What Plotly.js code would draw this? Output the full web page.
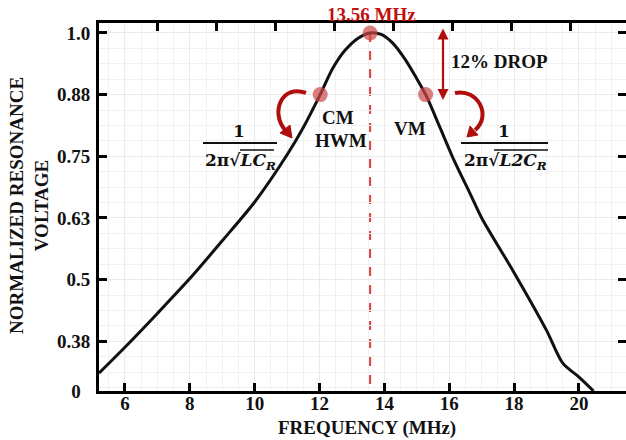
<!DOCTYPE html>
<html><head><meta charset="utf-8">
<script src="https://cdn.plot.ly/plotly-3.0.1.min.js"></script>
<style>body{margin:0;padding:0;background:#fff}#chart{width:626px;height:440px}</style>
</head><body><div id="chart"></div>
<script>
// Data
const freq = [5.2, 6, 7, 8, 9, 10, 11, 11.5, 12.02, 12.4, 12.8, 13.2, 13.56, 13.9, 14.25, 14.65, 15.0, 15.29, 15.7, 16.12, 16.65, 17, 18, 19, 19.5, 20, 20.45];
const volt = [0.316, 0.368, 0.436, 0.506, 0.582, 0.660, 0.755, 0.810, 0.876, 0.928, 0.966, 0.990, 1.0, 0.997, 0.980, 0.946, 0.908, 0.874, 0.812, 0.748, 0.676, 0.628, 0.518, 0.402, 0.336, 0.308, 0.28];
const markFreq = [12.02, 13.56, 15.27];
const markVolt = [0.876, 1.0, 0.876];
const resonance = 13.56;
const yTickVals = [0.28, 0.38, 0.504, 0.628, 0.752, 0.876, 1.0];
const yTickText = ['0\u00a0\u00a0', '0.38', '0.5', '0.63', '0.75', '0.88', '1.0'];
const xTickVals = [6, 8, 10, 12, 14, 16, 18, 20];

const L = 99, R = 626, T = 23, B = 391;
const px = x => (x - L) / (R - L);
const py = y => (B - y) / (B - T);
const P = (x, y) => px(x).toFixed(4) + ',' + py(y).toFixed(4);

const serif = 'Liberation Serif, Times New Roman, serif';
const mathFont = 'DejaVu Serif, serif';
const dark = '#b00d0d';

const traces = [
  {x: freq, y: volt, type: 'scatter', mode: 'lines', line: {color: '#111', width: 3, shape: 'spline', smoothing: 0.8}, hoverinfo: 'skip'},
  {x: markFreq, y: markVolt, type: 'scatter', mode: 'markers', marker: {color: 'rgba(205,70,70,0.7)', size: 15}, hoverinfo: 'skip'},
  {x: [6], y: [0.5], xaxis: 'x2', type: 'scatter', mode: 'markers', marker: {opacity: 0}, hoverinfo: 'skip', showlegend: false}
];

const font = {family: serif, size: 19, color: '#111', weight: 'bold'};
const mfont = {family: mathFont, size: 17, color: '#111', weight: 'bold'};

const annotations = [
  {xref: 'paper', yref: 'paper', x: px(371), y: py(14), text: '13.56 MHz', showarrow: false, font: {family: serif, size: 19, color: '#c01010', weight: 'bold'}, xanchor: 'center', yanchor: 'middle'},
  {xref: 'paper', yref: 'paper', x: px(367), y: py(428), text: 'FREQUENCY (MHz)', showarrow: false, font: font, xanchor: 'center', yanchor: 'middle'},
  {xref: 'paper', yref: 'paper', x: px(29), y: py(206), text: 'NORMALIZED RESONANCE<br>VOLTAGE', showarrow: false, textangle: -90, font: font, xanchor: 'center', yanchor: 'middle'},
  {xref: 'paper', yref: 'paper', x: px(499), y: py(62), text: '12% DROP', showarrow: false, font: font, xanchor: 'center', yanchor: 'middle'},
  {xref: 'paper', yref: 'paper', x: px(338), y: py(117), text: 'CM', showarrow: false, font: font, xanchor: 'center', yanchor: 'middle'},
  {xref: 'paper', yref: 'paper', x: px(341), y: py(140), text: 'HWM', showarrow: false, font: font, xanchor: 'center', yanchor: 'middle'},
  {xref: 'paper', yref: 'paper', x: px(410), y: py(128), text: 'VM', showarrow: false, font: font, xanchor: 'center', yanchor: 'middle'},
  // formulas
  {xref: 'paper', yref: 'paper', x: px(239), y: py(131), text: '1', showarrow: false, font: mfont, xanchor: 'center', yanchor: 'middle'},
  {xref: 'paper', yref: 'paper', x: px(240), y: py(162), text: '2π√<i>LC<sub>R</sub></i>', showarrow: false, font: mfont, xanchor: 'center', yanchor: 'middle'},
  {xref: 'paper', yref: 'paper', x: px(504), y: py(131), text: '1', showarrow: false, font: mfont, xanchor: 'center', yanchor: 'middle'},
  {xref: 'paper', yref: 'paper', x: px(505), y: py(162), text: '2π√<i>L2C<sub>R</sub></i>', showarrow: false, font: mfont, xanchor: 'center', yanchor: 'middle'},
  // double arrow
  {xref: 'paper', yref: 'paper', x: px(443), y: py(100), axref: 'paper', ayref: 'paper', ax: px(443), ay: py(27), text: '', showarrow: true, arrowhead: 2, arrowside: 'end+start', arrowsize: 1, arrowwidth: 2.2, arrowcolor: dark}
];

const shapes = [
  {type: 'line', xref: 'x', yref: 'y', x0: resonance, x1: resonance, y0: 1.0, y1: 0.28, line: {color: '#d94040', width: 2, dash: 'dash'}, layer: 'below'},
  {type: 'line', xref: 'paper', yref: 'paper', x0: px(203), x1: px(277), y0: py(143), y1: py(143), line: {color: '#111', width: 2}},
  {type: 'line', xref: 'paper', yref: 'paper', x0: px(461), x1: px(548), y0: py(143), y1: py(143), line: {color: '#111', width: 2}},
  // radical overlines
  {type: 'line', xref: 'paper', yref: 'paper', x0: px(240), x1: px(274), y0: py(150), y1: py(150), line: {color: '#111', width: 1.3}},
  {type: 'line', xref: 'paper', yref: 'paper', x0: px(494), x1: px(548), y0: py(150), y1: py(150), line: {color: '#111', width: 1.3}},
  // curved arrows
  {type: 'path', xref: 'paper', yref: 'paper', path: 'M' + P(306, 93) + ' C' + P(282, 84) + ' ' + P(270, 112) + ' ' + P(285, 130), line: {color: dark, width: 4}},
  {type: 'path', xref: 'paper', yref: 'paper', path: 'M' + P(292, 138) + ' L' + P(280, 133) + ' L' + P(290, 125) + ' Z', fillcolor: dark, line: {color: dark, width: 1}},
  {type: 'path', xref: 'paper', yref: 'paper', path: 'M' + P(455, 93) + ' C' + P(478, 88) + ' ' + P(492, 116) + ' ' + P(475, 130), line: {color: dark, width: 4}},
  {type: 'path', xref: 'paper', yref: 'paper', path: 'M' + P(467, 137) + ' L' + P(478, 135) + ' L' + P(470, 126) + ' Z', fillcolor: dark, line: {color: dark, width: 1}}
];

const layout = {
  width: 626, height: 440,
  margin: {l: L, r: 626 - R, t: T, b: 440 - B, pad: 0},
  paper_bgcolor: '#fff', plot_bgcolor: '#fff',
  showlegend: false,
  xaxis: {
    range: [5.2, 21.45], tickmode: 'array', tickvals: xTickVals,
    ticks: 'inside', ticklen: 8, tickwidth: 3, tickcolor: '#000',
    showline: true, linewidth: 3, linecolor: '#000', mirror: false,
    showgrid: true, gridcolor: '#ebebeb', gridwidth: 1, zeroline: false,
    minor: {dtick: 0.5, tick0: 6, showgrid: true, gridcolor: '#f1f1f1', ticks: ''},
    tickfont: font, ticklabelstandoff: -7
  },
  xaxis2: {
    overlaying: 'x', side: 'top', anchor: 'y', range: [5.2, 21.45],
    tick0: 6.99, dtick: 1.82, tickmode: 'linear',
    ticks: 'inside', ticklen: 8, tickwidth: 3, tickcolor: '#000',
    showline: true, linewidth: 3, linecolor: '#000',
    showticklabels: false, showgrid: false, zeroline: false
  },
  yaxis: {
    range: [0.28, 1.02], tickmode: 'array', tickvals: yTickVals, ticktext: yTickText,
    ticks: 'inside', ticklen: 8, tickwidth: 3, tickcolor: '#000',
    showline: true, linewidth: 3, linecolor: '#000', mirror: 'ticks',
    showgrid: true, gridcolor: '#ebebeb', zeroline: false,
    minor: {tickmode: 'linear', dtick: 0.031, tick0: 0.38, showgrid: true, gridcolor: '#f1f1f1', ticks: ''},
    tickfont: font, ticklabelstandoff: 2
  },
  annotations: annotations,
  shapes: shapes
};

Plotly.newPlot('chart', traces, layout, {displayModeBar: false, staticPlot: true});
</script></body></html>
